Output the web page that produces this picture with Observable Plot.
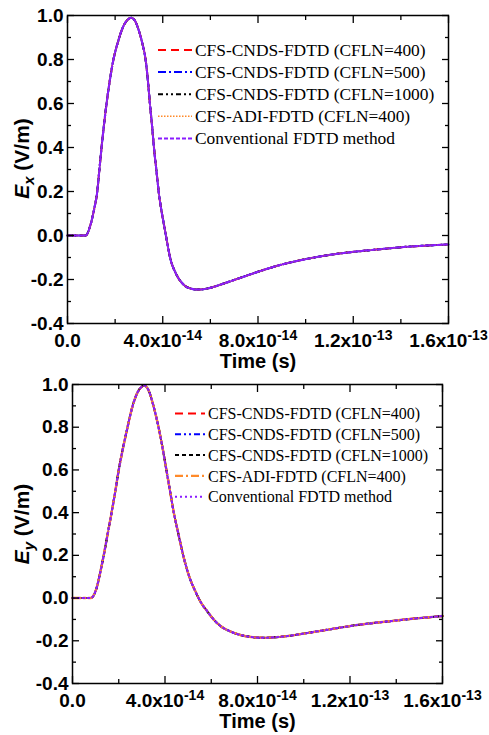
<!DOCTYPE html>
<html><head><meta charset="utf-8">
<script src="https://cdn.jsdelivr.net/npm/d3@7"></script>
<script src="https://cdn.jsdelivr.net/npm/@observablehq/plot@0.6"></script>
<style>
body{margin:0;background:#fff;}
#wrap{position:relative;width:489px;height:735px;overflow:hidden;}
#wrap > svg{position:absolute;left:0;overflow:visible;}
</style></head><body><div id="wrap"></div>
<script>
// time axis in units of 1e-14 s
const xTickValues = [0, 4, 8, 12, 16];
const xTickLabels = ["0.0", "4.0x10^-14", "8.0x10^-14", "1.2x10^-13", "1.6x10^-13"];
const xMinorTicks = [2, 6, 10, 14];
const yTickValues = [-0.4, -0.2, 0, 0.2, 0.4, 0.6, 0.8, 1.0];
const yTickLabels = ["-0.4", "-0.2", "0.0", "0.2", "0.4", "0.6", "0.8", "1.0"];
const yMinorTicks = [-0.3, -0.1, 0.1, 0.3, 0.5, 0.7, 0.9];

const seriesNames = ["CFS-CNDS-FDTD (CFLN=400)", "CFS-CNDS-FDTD (CFLN=500)", "CFS-CNDS-FDTD (CFLN=1000)", "CFS-ADI-FDTD (CFLN=400)", "Conventional FDTD method"];
const seriesColors = ["#ff0000", "#0000ff", "#000000", "#ff8a2a", "#8a1cff"];
const exDashes = ["8,5", "8,3,2,3", "5,3,2,3,2,3", "1.5,1.5", "4,2"];
const exWidths = [2, 2, 2, 1.6, 2];
const eyDashes = ["8,5", "6,3,2,3,2,3", "4,3", "8,3,2,3", "2,3"];
const eyWidths = [2, 2, 2, 2.4, 2];

// Ex (all five methods overlap in the picture)
const exTime  = [0, 0.5, 0.76, 0.97, 1.12, 1.25, 1.34, 1.43, 1.53, 1.64, 1.77, 1.93, 2.12, 2.32, 2.5, 2.68, 2.84, 3.0, 3.15, 3.28, 3.38, 3.46, 3.55, 3.63, 3.73, 3.84, 3.95, 4.05, 4.15, 4.33, 4.54, 4.89, 5.2, 5.5, 5.87, 6.57, 7.27, 8.0, 8.67, 10.07, 11.47, 12.87, 14.27, 16.0];
const exValue = [0, 0, 0, 0.05, 0.12, 0.2, 0.3, 0.4, 0.5, 0.6, 0.7, 0.8, 0.88, 0.945, 0.978, 0.99, 0.975, 0.93, 0.87, 0.8, 0.7, 0.6, 0.5, 0.4, 0.3, 0.19, 0.11, 0.05, -0.01, -0.11, -0.17, -0.225, -0.242, -0.246, -0.241, -0.218, -0.192, -0.165, -0.142, -0.106, -0.081, -0.065, -0.051, -0.041];

// Ey
const eyTime  = [0, 0.5, 0.78, 0.9, 1.07, 1.2, 1.35, 1.52, 1.69, 1.85, 2.0, 2.18, 2.38, 2.6, 2.8, 2.95, 3.11, 3.28, 3.5, 3.72, 3.9, 4.06, 4.22, 4.38, 4.58, 4.81, 5.05, 5.32, 5.55, 5.82, 6.1, 6.4, 6.8, 7.26, 7.8, 8.27, 8.8, 9.28, 10.07, 10.87, 11.6, 12.31, 13.0, 13.75, 14.5, 15.19, 16.0];
const eyValue = [0, 0, 0, 0.01, 0.058, 0.12, 0.2, 0.3, 0.4, 0.5, 0.6, 0.7, 0.8, 0.9, 0.96, 0.985, 0.995, 0.975, 0.9, 0.8, 0.7, 0.6, 0.5, 0.4, 0.3, 0.19, 0.1, 0.03, -0.02, -0.061, -0.1, -0.131, -0.155, -0.173, -0.183, -0.186, -0.183, -0.178, -0.165, -0.151, -0.138, -0.126, -0.117, -0.108, -0.099, -0.092, -0.084];

const SANS = "'Liberation Sans', Arial, sans-serif";
const SERIF = "'Liberation Serif', 'Times New Roman', serif";

function makePanel({time, values, dashes, widths, sub, height, mt, mb, ml, mr, labelDx, labelDy}) {
  const data = time.map((t, i) => ({t, v: values[i]}));
  const fmtX = d => xTickLabels[xTickValues.indexOf(d)];
  const fmtY = d => yTickLabels[yTickValues.findIndex(v => Math.abs(v - d) < 1e-9)];
  const blank = () => "";
  const tk = {stroke: "#000", strokeWidth: 1.3, fontSize: 19, fontWeight: "bold", fontFamily: SANS, fill: "#000"};
  const svg = Plot.plot({
    width: 489, height,
    marginTop: mt, marginBottom: mb, marginLeft: ml, marginRight: mr,
    x: {domain: [0, 16]},
    y: {domain: [-0.4, 1.0]},
    style: {fontFamily: SANS, fontSize: "19px", fontWeight: "bold", color: "#000", background: "#fff"},
    marks: [
      ...seriesNames.map((n, k) => Plot.line(data, {x: "t", y: "v", stroke: seriesColors[k], strokeWidth: widths[k], strokeDasharray: dashes[k], curve: "monotone-x"})),
      Plot.frame({stroke: "#000", strokeWidth: 1.5}),
      Plot.axisX({ticks: xTickValues, tickSize: -7, tickPadding: 17, tickFormat: fmtX, label: null, ...tk}),
      Plot.axisX({ticks: xMinorTicks, tickSize: -4, tickFormat: blank, label: null, ...tk}),
      Plot.axisX({anchor: "top", ticks: xTickValues, tickSize: -7, tickFormat: blank, label: null, ...tk}),
      Plot.axisX({anchor: "top", ticks: xMinorTicks, tickSize: -4, tickFormat: blank, label: null, ...tk}),
      Plot.axisY({ticks: yTickValues, tickSize: -7, tickPadding: 11, tickFormat: fmtY, label: null, ...tk}),
      Plot.axisY({ticks: yMinorTicks, tickSize: -4, tickFormat: blank, label: null, ...tk}),
      Plot.axisY({anchor: "right", ticks: yTickValues, tickSize: -7, tickFormat: blank, label: null, ...tk}),
      Plot.axisY({anchor: "right", ticks: yMinorTicks, tickSize: -4, tickFormat: blank, label: null, ...tk}),
      Plot.text(["Time (s)"], {frameAnchor: "bottom", lineAnchor: "middle", dy: 38, fontSize: 20, fontWeight: "bold", fontFamily: SANS}),
      Plot.text(["E_" + sub + " (V/m)"], {frameAnchor: "left", lineAnchor: "middle", textAnchor: "middle", dx: labelDx, dy: labelDy, rotate: -90, fontSize: 21, fontWeight: "bold", fontFamily: SANS})
    ]
  });
  // superscripts / subscripts as real text
  svg.querySelectorAll("text").forEach(el => {
    const s = el.textContent;
    if (s.includes("^")) {
      const [base, exp] = s.split("^");
      el.textContent = base;
      const ts = document.createElementNS("http://www.w3.org/2000/svg", "tspan");
      ts.setAttribute("dy", "-7");
      ts.setAttribute("font-size", "14");
      ts.textContent = exp;
      el.appendChild(ts);
    } else if (s.startsWith("E_")) {
      el.textContent = "";
      const ns = "http://www.w3.org/2000/svg";
      const a = document.createElementNS(ns, "tspan");
      a.setAttribute("font-style", "italic"); a.textContent = "E";
      const b = document.createElementNS(ns, "tspan");
      b.setAttribute("font-style", "italic"); b.setAttribute("font-size", "15"); b.setAttribute("dy", "5");
      b.textContent = s.slice(2, s.indexOf(" "));
      const c = document.createElementNS(ns, "tspan");
      c.setAttribute("dy", "-5"); c.textContent = s.slice(s.indexOf(" "));
      el.append(a, b, c);
    }
  });
  return svg;
}

function addLegend(wrap, {top, x0, x1, tx, rows, fontSize, dashes, widths}) {
  const ns = "http://www.w3.org/2000/svg";
  const svg = document.createElementNS(ns, "svg");
  svg.setAttribute("width", 489); svg.setAttribute("height", 735);
  svg.style.cssText = "position:absolute;left:0;top:0;pointer-events:none;overflow:visible";
  seriesNames.forEach((name, k) => {
    const y = top + rows * k;
    const ln = document.createElementNS(ns, "line");
    ln.setAttribute("x1", x0); ln.setAttribute("x2", x1);
    ln.setAttribute("y1", y); ln.setAttribute("y2", y);
    ln.setAttribute("stroke", seriesColors[k]);
    ln.setAttribute("stroke-width", widths[k]);
    ln.setAttribute("stroke-dasharray", dashes[k]);
    svg.appendChild(ln);
    const t = document.createElementNS(ns, "text");
    t.setAttribute("x", tx); t.setAttribute("y", y);
    t.setAttribute("dy", "0.35em");
    t.setAttribute("font-family", SERIF);
    t.setAttribute("font-size", fontSize);
    t.textContent = name;
    svg.appendChild(t);
  });
  wrap.appendChild(svg);
}

const wrap = document.getElementById("wrap");
const top1 = makePanel({time: exTime, values: exValue, dashes: exDashes, widths: exWidths, sub: "x",
  height: 372, mt: 15, mb: 49, ml: 67, mr: 41, labelDx: -45, labelDy: -11});
top1.style.top = "0px";
wrap.appendChild(top1);
const bot = makePanel({time: eyTime, values: eyValue, dashes: eyDashes, widths: eyWidths, sub: "y",
  height: 363, mt: 12, mb: 52, ml: 72, mr: 47, labelDx: -50, labelDy: -10});
bot.style.top = "372px";
wrap.appendChild(bot);
addLegend(wrap, {top: 50, x0: 158, x1: 192, tx: 195, rows: 22.1, fontSize: 17.4, dashes: exDashes, widths: exWidths});
addLegend(wrap, {top: 413.5, x0: 175, x1: 205, tx: 208, rows: 20.8, fontSize: 16, dashes: eyDashes, widths: eyWidths});
</script></body></html>
